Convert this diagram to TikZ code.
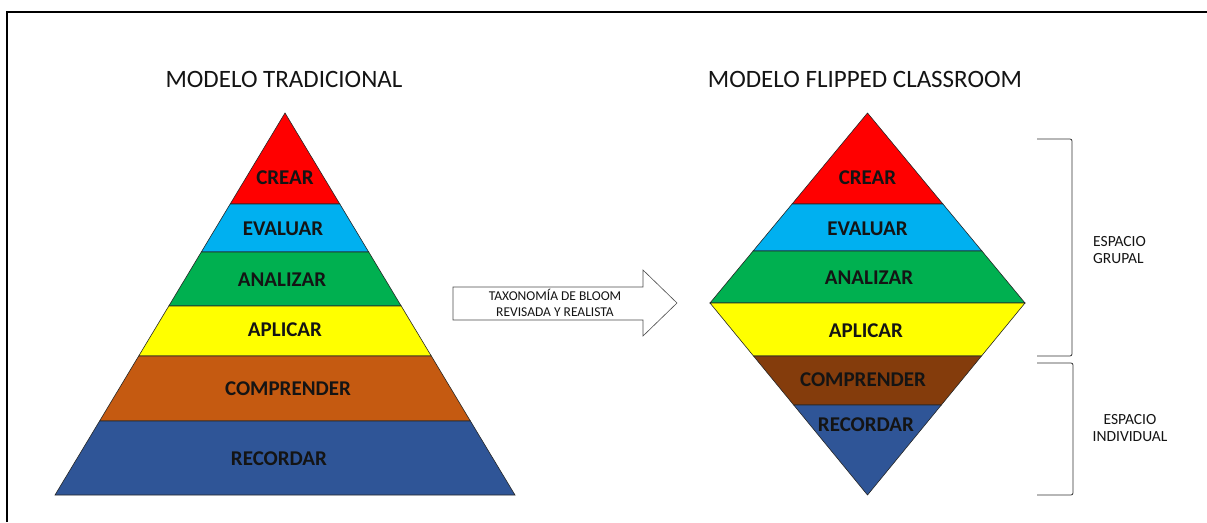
\documentclass[tikz,border=0pt]{standalone}
\usepackage{fontspec}
\setmainfont{Carlito}
\usetikzlibrary{positioning, calc}
\definecolor{cCrear}{HTML}{FF0000}
\definecolor{cEvaluar}{HTML}{00B0F0}
\definecolor{cAnalizar}{HTML}{00B050}
\definecolor{cAplicar}{HTML}{FFFF00}
\definecolor{cComprL}{HTML}{C55A11}
\definecolor{cComprR}{HTML}{843C0C}
\definecolor{cRecordar}{HTML}{2F5597}
\definecolor{cInk}{HTML}{141414}
\tikzset{
  layer/.style={
    draw=black!85, line width=0.6pt,
    fill=#1
  },
  levellabel/.style={
    font=\fontsize{21}{23}\selectfont\bfseries,
    text=cInk,
    inner sep=0pt
  },
  titlelabel/.style={
    font=\fontsize{25}{27}\selectfont,
    text=cInk,
    inner sep=0pt
  },
  sidelabel/.style={
    font=\fontsize{15.5}{16.8}\selectfont,
    text=cInk,
    inner sep=0pt
  },
  bracket/.style={
    draw=black!80, line width=0.8pt,
    rounded corners=2pt
  },
  bigarrow/.style={
    draw=black!70, line width=0.6pt,
    fill=white
  }
}

\begin{document}
\begin{tikzpicture}[x=1pt, y=-1pt]
  \useasboundingbox (0,0) rectangle (1207,522);
  % frame
  \draw[line width=1.5pt] (7,522) -- (7,12) -- (1207,12);

  % titles
  \node[titlelabel] (tTrad) at (284,79) {MODELO TRADICIONAL};
  \node[titlelabel] (tFlip) at (865,79) {MODELO FLIPPED CLASSROOM};

  % traditional pyramid
  \draw[layer=cCrear] (285,113) -- (339.8,204) -- (230.2,204) -- cycle;
  \draw[layer=cEvaluar] (230.2,204) -- (339.8,204) -- (368.7,252) -- (201.3,252) -- cycle;
  \draw[layer=cAnalizar] (201.3,252) -- (368.7,252) -- (401.2,306) -- (168.8,306) -- cycle;
  \draw[layer=cAplicar] (168.8,306) -- (401.2,306) -- (431.3,356) -- (138.7,356) -- cycle;
  \draw[layer=cComprL] (138.7,356) -- (431.3,356) -- (470.4,421) -- (99.6,421) -- cycle;
  \draw[layer=cRecordar] (99.6,421) -- (470.4,421) -- (515,495) -- (55,495) -- cycle;

  \node[levellabel] (lCrear) at (285,178) {CREAR};
  \node[levellabel] (lEvaluar) at (283,229) {EVALUAR};
  \node[levellabel] (lAnalizar) at (282,280) {ANALIZAR};
  \node[levellabel] (lAplicar) at (285,330) {APLICAR};
  \node[levellabel] (lComprender) at (288,389) {COMPRENDER};
  \node[levellabel] (lRecordar) at (279,459) {RECORDAR};

  % flipped diamond
  \draw[layer=cCrear] (867.5,113) -- (942.9,204) -- (792.1,204) -- cycle;
  \draw[layer=cEvaluar] (792.1,204) -- (942.9,204) -- (981.9,251) -- (753.1,251) -- cycle;
  \draw[layer=cAnalizar] (753.1,251) -- (981.9,251) -- (1025,303) -- (710,303) -- cycle;
  \draw[layer=cAplicar] (710,303) -- (1025,303) -- (981.5,356) -- (753.5,356) -- cycle;
  \draw[layer=cComprR] (753.5,356) -- (981.5,356) -- (941.3,405) -- (793.7,405) -- cycle;
  \draw[layer=cRecordar] (793.7,405) -- (941.3,405) -- (867.5,495) -- cycle;

  \node[levellabel] (rCrear) at (867.5,178) {CREAR};
  \node[levellabel] (rEvaluar) at (867.5,229) {EVALUAR};
  \node[levellabel] (rAnalizar) at (869,278) {ANALIZAR};
  \node[levellabel] (rAplicar) at (866,331) {APLICAR};
  \node[levellabel] (rComprender) at (863,380) {COMPRENDER};
  \node[levellabel] (rRecordar) at (866,425) {RECORDAR};

  % arrow between the models
  \draw[bigarrow] (453,287) -- (643,287) -- (643,270) -- (677,303)
    -- (643,336) -- (643,320) -- (453,320) -- cycle;
  \node[font=\fontsize{13.5}{16}\selectfont, text=cInk, align=center, inner sep=0pt]
    (taxo) at (555,303) {TAXONOMÍA DE BLOOM\\REVISADA Y REALISTA};

  % brackets
  \coordinate (gTop) at (1037,139);
  \coordinate (gBot) at (1037,356);
  \coordinate (iTop) at (1037,363);
  \coordinate (iBot) at (1037,495);
  \draw[bracket] (gTop) -- ++(35,0) |- (gBot);
  \draw[bracket] (iTop) -- ++(36,0) |- (iBot);

  \node[sidelabel, anchor=west, align=left] (grupal) at (1093,250) {ESPACIO\\GRUPAL};
  \node[sidelabel, align=center] (individual) at (1130,428) {ESPACIO\\INDIVIDUAL};
\end{tikzpicture}
\end{document}
